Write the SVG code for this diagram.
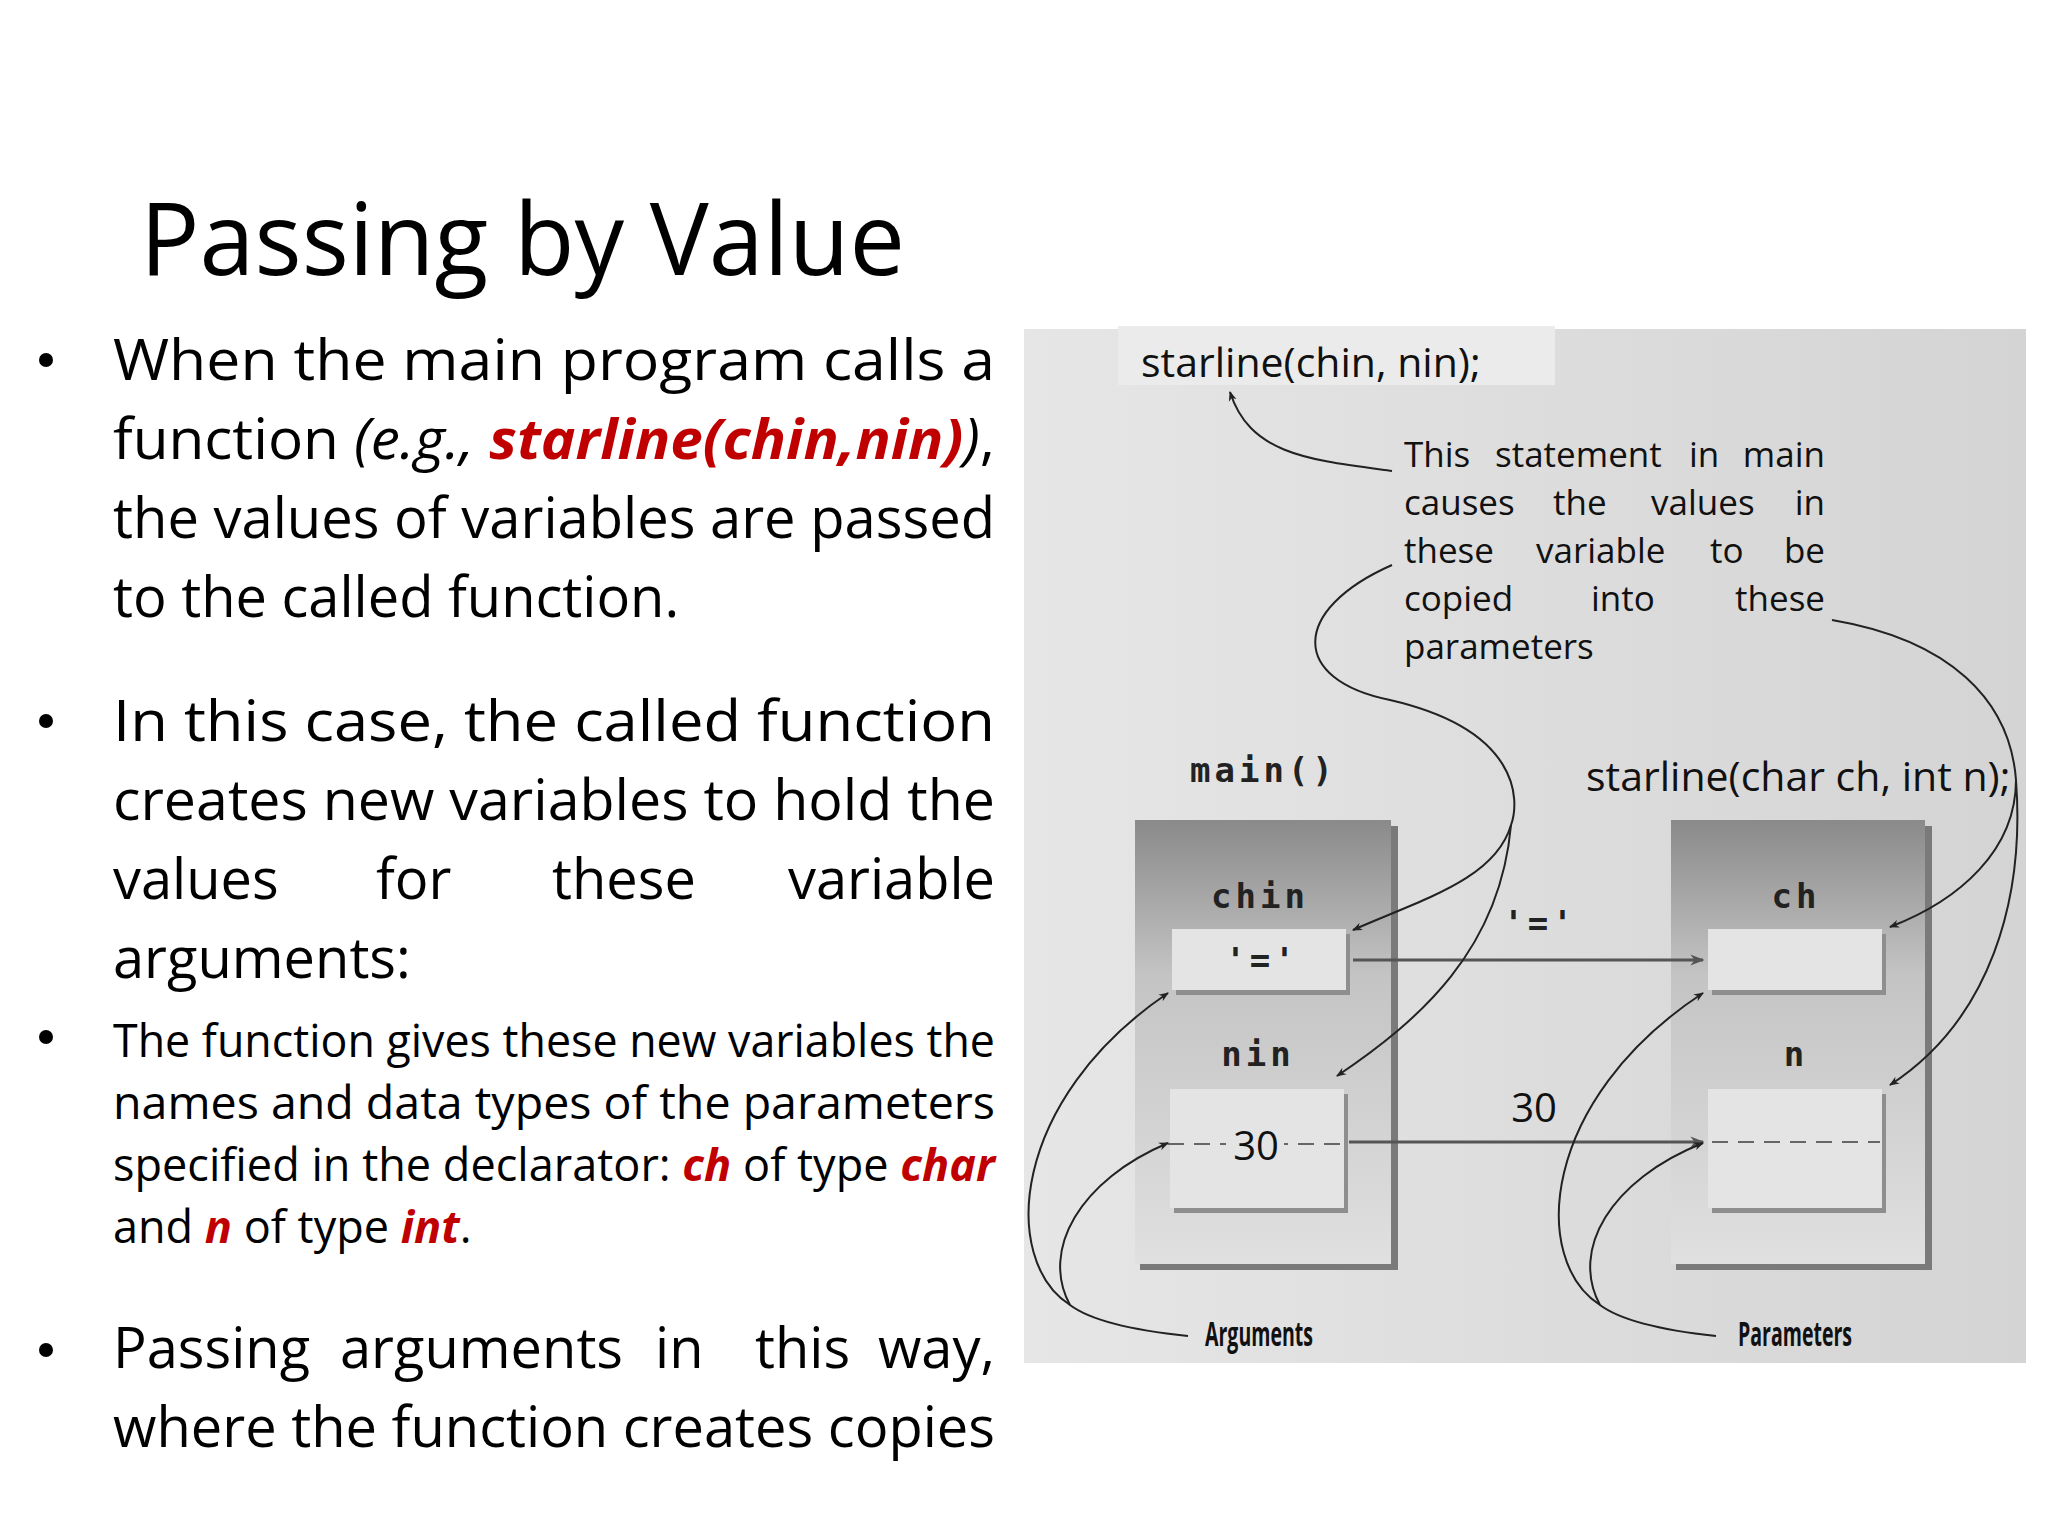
<svg xmlns="http://www.w3.org/2000/svg" width="2048" height="1536" viewBox="0 0 2048 1536">
<defs>
<style>
.b{font-family:"Open Sans","Liberation Sans",sans-serif;font-size:56px;fill:#000}
.s{font-family:"Open Sans","Liberation Sans",sans-serif;font-size:45px;fill:#000}
.r{fill:#c00000;font-weight:bold;font-style:italic}
.d{font-family:"Open Sans","Liberation Sans",sans-serif;fill:#111}
.m{font-family:"DejaVu Sans Mono","Liberation Mono",monospace;font-weight:bold;font-size:34px;fill:#222;letter-spacing:4px}
.c{fill:none;stroke:#222;stroke-width:2}
.a{fill:none;stroke:#555;stroke-width:3}
.dash{stroke:#666;stroke-width:2;stroke-dasharray:16 10}
</style>
<marker id="ar" viewBox="0 0 10 10" refX="9" refY="5" markerWidth="10" markerHeight="10" orient="auto-start-reverse" markerUnits="userSpaceOnUse"><path d="M0,1 L10,5 L0,9 L3,5 Z" fill="#222"/></marker>
<marker id="ar2" viewBox="0 0 10 10" refX="9" refY="5" markerWidth="14" markerHeight="14" orient="auto" markerUnits="userSpaceOnUse"><path d="M0,1 L10,5 L0,9 L3,5 Z" fill="#555"/></marker>
<linearGradient id="g" x1="0" y1="0" x2="0" y2="1"><stop offset="0" stop-color="#8a8a8a"/><stop offset="0.35" stop-color="#c4c4c4"/><stop offset="1" stop-color="#e0e0e0"/></linearGradient>
<linearGradient id="bg" x1="0" y1="0" x2="1" y2="0"><stop offset="0" stop-color="#e6e6e6"/><stop offset="1" stop-color="#d4d4d4"/></linearGradient>
</defs>
<rect width="2048" height="1536" fill="#fff"/>
<text x="140" y="275" font-family="Open Sans,Liberation Sans,sans-serif" font-size="100" textLength="765" lengthAdjust="spacingAndGlyphs">Passing by Value</text>
<g id="text">
<circle cx="46" cy="360" r="7"/><circle cx="46" cy="721" r="7"/><circle cx="46" cy="1037" r="7"/><circle cx="46" cy="1350" r="7"/>
<text class="b" x="113" y="380" textLength="882" lengthAdjust="spacingAndGlyphs">When the main program calls a</text>
<text class="b" x="113" y="459" textLength="882" lengthAdjust="spacingAndGlyphs">function <tspan font-style="italic">(e.g., </tspan><tspan class="r">starline(chin,nin)</tspan><tspan font-style="italic">)</tspan>,</text>
<text class="b" x="113" y="538" textLength="882" lengthAdjust="spacingAndGlyphs">the values of variables are passed</text>
<text class="b" x="113" y="617">to the called function.</text>
<text class="b" x="113" y="741" textLength="882" lengthAdjust="spacingAndGlyphs">In this case, the called function</text>
<text class="b" x="113" y="820" textLength="882" lengthAdjust="spacingAndGlyphs">creates new variables to hold the</text>
<text class="b" y="899"><tspan x="113">values</tspan><tspan x="376">for</tspan><tspan x="552">these</tspan></text>
<text class="b" x="995" y="899" text-anchor="end">variable</text>
<text class="b" x="113" y="978">arguments:</text>
<text class="s" x="113" y="1057" textLength="882" lengthAdjust="spacingAndGlyphs">The function gives these new variables the</text>
<text class="s" x="113" y="1119" textLength="882" lengthAdjust="spacingAndGlyphs">names and data types of the parameters</text>
<text class="s" x="113" y="1181" textLength="882" lengthAdjust="spacingAndGlyphs">specified in the declarator: <tspan class="r">ch</tspan> of type <tspan class="r">char</tspan></text>
<text class="s" x="113" y="1243">and <tspan class="r">n</tspan> of type <tspan class="r">int</tspan>.</text>
<text class="b" y="1368"><tspan x="113">Passing</tspan><tspan x="340">arguments</tspan><tspan x="655">in</tspan><tspan x="755">this</tspan></text>
<text class="b" x="995" y="1368" text-anchor="end">way,</text>
<text class="b" x="113" y="1447" textLength="882" lengthAdjust="spacingAndGlyphs">where the function creates copies</text>
</g>
<rect x="1024" y="329" width="1002" height="1034" fill="url(#bg)"/>
<rect x="1118" y="326" width="437" height="59" fill="#ebebeb"/>
<text class="d" x="1141" y="377" font-size="41">starline(chin, nin);</text>
<g class="d" font-size="35">
<text y="467"><tspan x="1404">This</tspan><tspan x="1495">statement</tspan><tspan x="1689">in</tspan></text>
<text x="1825" y="467" text-anchor="end">main</text>
<text y="515"><tspan x="1404">causes</tspan><tspan x="1553">the</tspan><tspan x="1651">values</tspan></text>
<text x="1825" y="515" text-anchor="end">in</text>
<text y="563"><tspan x="1404">these</tspan><tspan x="1536">variable</tspan><tspan x="1710">to</tspan></text>
<text x="1825" y="563" text-anchor="end">be</text>
<text y="611"><tspan x="1404">copied</tspan><tspan x="1591">into</tspan></text>
<text x="1825" y="611" text-anchor="end">these</text>
<text x="1404" y="659">parameters</text>
</g>
<text class="m" x="1190" y="782">main()</text>
<text class="d" x="1586" y="791" font-size="41">starline(char ch, int n);</text>
<g id="main">
<rect x="1140" y="826" width="258" height="444" fill="#7a7a7a"/>
<rect x="1135" y="820" width="256" height="444" fill="url(#g)"/>
<text class="m" x="1260" y="908" text-anchor="middle">chin</text>
<rect x="1176" y="934" width="174" height="61" fill="#8e8e8e"/>
<rect x="1172" y="929" width="174" height="61" fill="#e4e4e4"/>
<text class="m" x="1262" y="972" text-anchor="middle">'='</text>
<text class="m" x="1258" y="1066" text-anchor="middle">nin</text>
<rect x="1174" y="1094" width="174" height="119" fill="#8e8e8e"/>
<rect x="1170" y="1089" width="174" height="119" fill="#e4e4e4"/>
<line x1="1168" y1="1144" x2="1346" y2="1144" class="dash"/>
<rect x="1226" y="1122" width="58" height="40" fill="#e4e4e4"/>
<text class="d" x="1256" y="1160" font-size="40" text-anchor="middle">30</text>
</g>
<g id="starline">
<rect x="1676" y="826" width="256" height="444" fill="#7a7a7a"/>
<rect x="1671" y="820" width="254" height="444" fill="url(#g)"/>
<text class="m" x="1796" y="908" text-anchor="middle">ch</text>
<rect x="1712" y="934" width="174" height="61" fill="#8e8e8e"/>
<rect x="1708" y="929" width="174" height="61" fill="#e4e4e4"/>
<text class="m" x="1796" y="1066" text-anchor="middle">n</text>
<rect x="1712" y="1094" width="174" height="119" fill="#8e8e8e"/>
<rect x="1708" y="1089" width="174" height="119" fill="#e4e4e4"/>
<line x1="1712" y1="1142" x2="1880" y2="1142" class="dash"/>
</g>
<text class="m" x="1540" y="935" text-anchor="middle">'='</text>
<text class="d" x="1534" y="1122" font-size="40" text-anchor="middle">30</text>
<text class="d" x="1259" y="1346" font-size="34" font-weight="bold" text-anchor="middle" textLength="108" lengthAdjust="spacingAndGlyphs">Arguments</text>
<text class="d" x="1795" y="1346" font-size="34" font-weight="bold" text-anchor="middle" textLength="114" lengthAdjust="spacingAndGlyphs">Parameters</text>
<g id="connectors">
<path class="a" d="M1353,960 L1703,960" marker-end="url(#ar2)"/>
<path class="a" d="M1349,1142 L1703,1142" marker-end="url(#ar2)"/>
<path class="c" d="M1392,471 C1310,460 1250,455 1230,392" marker-end="url(#ar)"/>
<path class="c" d="M1392,565 C1290,610 1290,680 1390,700 C1520,730 1520,800 1511,825 C1495,880 1420,900 1353,930" marker-end="url(#ar)"/>
<path class="c" d="M1511,825 C1500,950 1420,1020 1337,1076" marker-end="url(#ar)"/>
<path class="c" d="M1832,620 C1950,640 2010,700 2016,780 C2016,850 1960,900 1890,927" marker-end="url(#ar)"/>
<path class="c" d="M2016,780 C2025,900 1990,1020 1890,1085" marker-end="url(#ar)"/>
<path class="c" d="M1188,1336 C1130,1330 1090,1320 1070,1305 C1000,1260 1010,1100 1168,993" marker-end="url(#ar)"/>
<path class="c" d="M1070,1305 C1040,1250 1080,1180 1168,1143" marker-end="url(#ar)"/>
<path class="c" d="M1716,1336 C1660,1330 1620,1320 1600,1305 C1530,1260 1540,1100 1703,993" marker-end="url(#ar)"/>
<path class="c" d="M1600,1305 C1570,1250 1610,1180 1703,1143" marker-end="url(#ar)"/>
</g>
</svg>
